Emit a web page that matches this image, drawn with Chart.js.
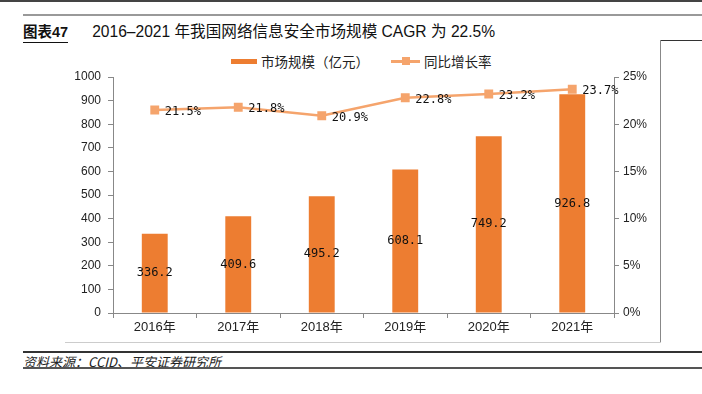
<!DOCTYPE html>
<html>
<head>
<meta charset="utf-8">
<script src="https://cdn.jsdelivr.net/npm/chart.js@4/dist/chart.umd.min.js"></script>
<style>
  body { margin: 0; background: #fff; font-family: "Liberation Sans", "Noto Sans CJK SC", sans-serif; }
  #page { position: relative; width: 702px; height: 394px; overflow: hidden; }
  .rule { position: absolute; }
  #title { position: absolute; left: 23px; top: 19px; font-size: 15.6px; color: #111; white-space: nowrap; }
  #title b { display: inline-block; font-size: 14.5px; border-bottom: 1px solid #111; padding-bottom: 1px; margin-right: 24px; }
  #legend { position: absolute; top: 49px; left: 231px; font-size: 13.5px; color: #222; white-space: nowrap; font-family: "Noto Sans CJK SC", sans-serif; }
  #legend span { display: inline-block; vertical-align: middle; }
  .sw-bar { width: 26px; height: 5px; background: #ED7D31; margin-right: 4px; }
  .sw-line { position: relative; width: 29px; height: 3px; background: #F5A46C; margin: 0 4px 0 22px; }
  .sw-line i { position: absolute; left: 11px; top: -3px; width: 8px; height: 8px; background: #F5A46C; }
  #source { position: absolute; left: 23px; top: 352px; font-size: 13px; font-style: italic; color: #222; font-family: "Noto Sans CJK SC", sans-serif; }
  #wrap { position: absolute; left: 65px; top: 40px; width: 595px; height: 302px; }
</style>
</head>
<body>
<div id="page">
  <div class="rule" style="left:0;top:0;width:702px;height:2px;background:#444"></div>
  <div class="rule" style="left:23px;top:14px;width:679px;height:2px;background:#999"></div>
  <div id="title"><b>图表47</b>2016–2021 年我国网络信息安全市场规模 CAGR 为 22.5%</div>
  <div class="rule" style="left:660px;top:40px;width:42px;height:1px;background:#333"></div>
  <div class="rule" style="left:660px;top:40px;width:1px;height:302px;background:#888"></div>
  <div class="rule" style="left:65px;top:342px;width:596px;height:1px;background:#ccc"></div>
  <div id="legend"><span class="sw-bar"></span><span>市场规模（亿元）</span><span class="sw-line"><i></i></span><span>同比增长率</span></div>
  <div id="wrap"><canvas id="chart"></canvas></div>
  <div class="rule" style="left:23px;top:351px;width:679px;height:2px;background:#333"></div>
  <div id="source">资料来源：CCID、平安证券研究所</div>
  <div class="rule" style="left:23px;top:367px;width:679px;height:2px;background:#555"></div>
</div>
<script>
const years = ['2016年', '2017年', '2018年', '2019年', '2020年', '2021年'];
const marketSize = [336.2, 409.6, 495.2, 608.1, 749.2, 926.8];
const growthRate = [21.5, 21.8, 20.9, 22.8, 23.2, 23.7];

const barColor = '#ED7D31';
const lineColor = '#F5A46C';
const axisColor = '#888';
const labelFont = '12px "DejaVu Sans Mono", monospace';

// draws value labels: bar values centred in bars, rates to the right of points
const valueLabels = {
  id: 'valueLabels',
  afterDatasetsDraw(chart) {
    const ctx = chart.ctx;
    ctx.save();
    ctx.font = labelFont;
    ctx.fillStyle = '#111';
    ctx.textBaseline = 'middle';
    chart.getDatasetMeta(0).data.forEach((bar, i) => {
      ctx.textAlign = 'center';
      ctx.fillText(marketSize[i].toFixed(1), bar.x, (bar.y + bar.base) / 2);
    });
    chart.getDatasetMeta(1).data.forEach((pt, i) => {
      ctx.textAlign = 'left';
      ctx.fillText(growthRate[i].toFixed(1) + '%', pt.x + 10, pt.y + 2);
    });
    ctx.restore();
  }
};

new Chart(document.getElementById('chart'), {
  data: {
    labels: years,
    datasets: [{
      type: 'bar',
      label: '市场规模（亿元）',
      data: marketSize,
      backgroundColor: barColor,
      barPercentage: 0.31,
      categoryPercentage: 1,
      yAxisID: 'y',
      order: 1
    }, {
      type: 'line',
      label: '同比增长率',
      data: growthRate,
      borderColor: lineColor,
      backgroundColor: lineColor,
      borderWidth: 2.5,
      pointStyle: 'rect',
      pointRadius: 4.5,
      tension: 0,
      yAxisID: 'y1',
      order: 0
    }]
  },
  options: {
    responsive: true,
    maintainAspectRatio: false,
    animation: false,
    layout: { padding: { top: 37, left: 0, right: 0, bottom: 0 } },
    plugins: { legend: { display: false }, tooltip: { enabled: false } },
    scales: {
      x: {
        grid: { offset: true, drawOnChartArea: false, color: axisColor, tickLength: 5 },
        border: { color: axisColor },
        ticks: { color: '#222', padding: 2, font: { size: 13, family: '"Liberation Sans", "Noto Sans CJK SC"' } },
        afterFit: s => { s.height = 29; }
      },
      y: {
        position: 'left',
        min: 0,
        max: 1000,
        ticks: { stepSize: 100, color: '#222', padding: 7, callback: v => String(v), font: { size: 12, family: '"Liberation Sans"' } },
        grid: { drawOnChartArea: false, color: axisColor, tickLength: 5 },
        border: { color: axisColor },
        afterFit: s => { s.width = 48; }
      },
      y1: {
        position: 'right',
        min: 0,
        max: 25,
        ticks: { stepSize: 5, color: '#222', padding: 4, callback: v => v + '%', font: { size: 12, family: '"Liberation Sans"' } },
        grid: { drawOnChartArea: false, color: axisColor, tickLength: 5 },
        border: { color: axisColor },
        afterFit: s => { s.width = 46; }
      }
    }
  },
  plugins: [valueLabels]
});
</script>
</body>
</html>
